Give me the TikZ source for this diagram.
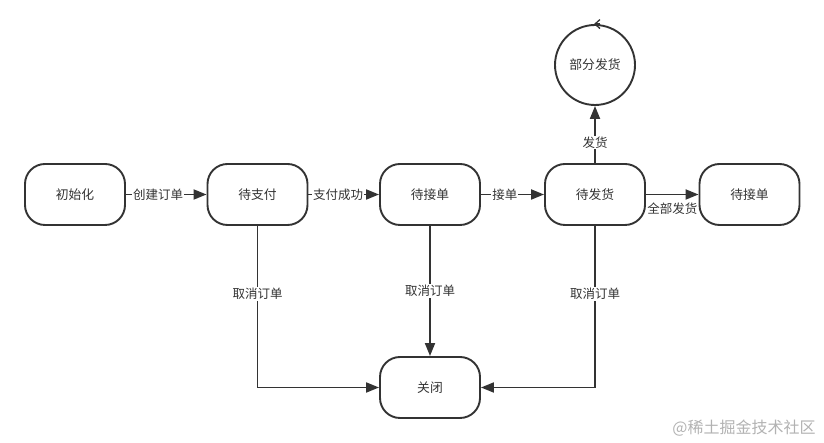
\documentclass[tikz,border=0pt]{standalone}
\usepackage{fontspec}
\setmainfont{Noto Sans CJK SC}
\usetikzlibrary{arrows.meta,positioning}
\definecolor{ink}{HTML}{333333}

\begin{document}
\begin{tikzpicture}[
  x=1pt,y=1pt,
  state/.style={
    draw=ink,
    line width=1.9pt,
    rounded corners=20pt,
    fill=white,
    minimum width=100pt,
    minimum height=61pt,
    text=ink,
    font=\fontsize{12.8}{14}\selectfont
  },
  round state/.style={
    state,
    circle,
    minimum size=80pt,
    inner sep=0pt
  },
  edge label/.style={
    fill=white,
    text=ink,
    inner sep=1pt,
    font=\fontsize{12.5}{14}\selectfont
  },
  flow/.style={-{Triangle[length=13pt,width=10pt]},draw=ink,line width=1.9pt}
]
  \useasboundingbox (0,0) rectangle (824,443);

  \node[state] (init) at (75,248.5) {初始化};
  \node[state] (pay) at (257.5,248.5) {待支付};
  \node[state] (accept) at (430,248.5) {待接单};
  \node[state] (ship) at (595,248.5) {待发货};
  \node[state] (receive) at (749.5,248.5) {待接单};
  \node[round state] (partial) at (595,378) {部分发货};
  \node[state] (close) at (430,55.5) {关闭};

  \draw[flow] (init)--(pay) node[edge label,pos=0.4] {创建订单};
  \draw[flow] (pay)--(accept) node[edge label,pos=0.42] {支付成功};
  \draw[flow] (accept)--(ship) node[edge label,pos=0.38] {接单};
  \draw[flow] (ship)--(partial) node[edge label,pos=0.36] {发货};
  \draw[flow] (ship)--(receive) node[edge label,midway,below=6pt] {全部发货};
  \draw[draw=ink,line width=1.3pt,-{Straight Barb[length=5pt,width=9pt]}]
    ([xshift=5pt]partial.north)--([xshift=-1pt]partial.north);

  \draw[flow] (pay.south) |- (close.west) node[edge label,pos=0.21] {取消订单};
  \draw[flow] (accept)--(close) node[edge label,midway] {取消订单};
  \draw[flow] (ship.south) |- (close.east) node[edge label,pos=0.21] {取消订单};

  \node[text=black!30,font=\fontsize{16}{18}\selectfont] (mark) at (744,15) {@稀土掘金技术社区};
\end{tikzpicture}
\end{document}
